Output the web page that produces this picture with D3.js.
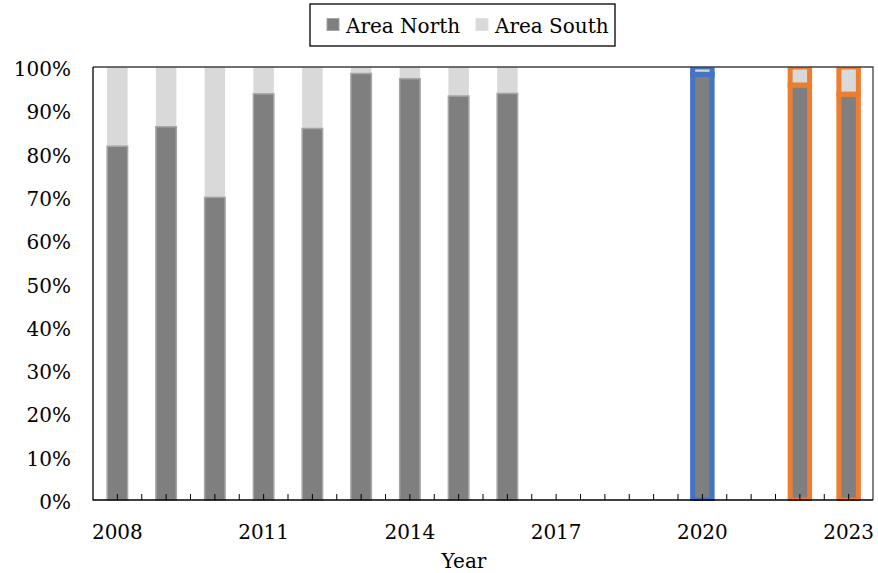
<!DOCTYPE html>
<html><head><meta charset="utf-8">
<script src="https://cdn.jsdelivr.net/npm/d3@7"></script>
<style>body{margin:0;background:#fff}svg{display:block}text{font-family:"DejaVu Serif",serif;fill:#000}</style>
</head><body><svg id="c" width="878" height="573"></svg>
<script>
const years = d3.range(2008, 2024).map(String);
const northYears = ["2008","2009","2010","2011","2012","2013","2014","2015","2016","2020","2022","2023"];
const northValues = [0.817, 0.862, 0.699, 0.938, 0.858, 0.985, 0.973, 0.933, 0.939, 0.983, 0.958, 0.937];
const xTickLabels = ["2008","2011","2014","2017","2020","2023"];
const yTicks = [0,0.1,0.2,0.3,0.4,0.5,0.6,0.7,0.8,0.9,1.0];
const highlightYears = ["2020","2022","2023"];
const highlightColors = ["#4472c4","#ed7d31","#ed7d31"];
const seriesNames = ["Area North","Area South"];
const seriesColors = ["#7f7f7f","#d9d9d9"];

const L=93,R=873,T=67,B=500;
const svg=d3.select("#c");
const x=d3.scaleBand().domain(years).range([L,R]).padding(0);
const y=d3.scaleLinear().domain([0,1]).range([B,T]);
const bw=x.bandwidth()*0.42;

const data=northYears.map((yr,i)=>({year:yr,north:northValues[i],south:1-northValues[i]}));

svg.append("defs").append("clipPath").attr("id","clip").append("rect")
  .attr("x",L).attr("y",T).attr("width",R-L).attr("height",B-T+1);
const g=svg.append("g").attr("clip-path","url(#clip)");

const cx=d=>x(d.year)+x.bandwidth()/2;
// south segments
g.selectAll(".s").data(data).join("rect")
  .attr("x",d=>cx(d)-bw/2).attr("width",bw)
  .attr("y",y(1)).attr("height",d=>y(d.north)-y(1))
  .attr("fill",seriesColors[1]);
// north segments
g.selectAll(".n").data(data).join("rect")
  .attr("x",d=>cx(d)-bw/2).attr("width",bw)
  .attr("y",d=>y(d.north)).attr("height",d=>B-y(d.north))
  .attr("fill",seriesColors[0]).attr("stroke","#a6a6a6").attr("stroke-width",1.5);

// highlights
highlightYears.forEach((yr,i)=>{
  const d=data.find(e=>e.year===yr);
  const c=highlightColors[i];
  const x0=cx(d)-bw/2+0.5, w=bw-1;
  g.append("rect").attr("x",x0).attr("width",w).attr("y",y(1)).attr("height",y(d.north)-y(1))
    .attr("fill","none").attr("stroke",c).attr("stroke-width",5);
  g.append("rect").attr("x",x0).attr("width",w).attr("y",y(d.north)).attr("height",B-y(d.north))
    .attr("fill","none").attr("stroke",c).attr("stroke-width",5);
});

// frame
svg.append("path").attr("d",`M${L},${T}H${R}V${B}`).attr("fill","none").attr("stroke","#404040").attr("stroke-width",1.3);
svg.append("line").attr("x1",L).attr("x2",L).attr("y1",T).attr("y2",B+0.5).attr("stroke","#000").attr("stroke-width",1.3);
svg.append("line").attr("x1",L).attr("x2",R).attr("y1",B).attr("y2",B).attr("stroke","#000").attr("stroke-width",1.3);

// x ticks (centers and boundaries), inward
const tickXs=[];
years.forEach((yr,i)=>{ if(i>0) tickXs.push(x(yr)); tickXs.push(x(yr)+x.bandwidth()/2); });
svg.selectAll(".xt").data(tickXs).join("line")
  .attr("x1",d=>d).attr("x2",d=>d).attr("y1",B).attr("y2",B-6).attr("stroke","#000").attr("stroke-width",1);

// x labels
svg.selectAll(".xl").data(xTickLabels).join("text")
  .attr("x",d=>x(d)+x.bandwidth()/2).attr("y",539).attr("text-anchor","middle")
  .attr("font-size",20).text(d=>d);
svg.append("text").attr("x",(L+R)/2-19).attr("y",568).attr("text-anchor","middle").attr("font-size",20).text("Year");

// y labels
svg.selectAll(".yl").data(yTicks).join("text")
  .attr("x",71).attr("y",d=>y(d)+2).attr("text-anchor","end").attr("dominant-baseline","central")
  .attr("font-size",20).text(d=>d3.format(".0%")(d));

// legend
const lg=svg.append("g");
lg.append("rect").attr("x",310).attr("y",4).attr("width",305).attr("height",42)
  .attr("fill","#fff").attr("stroke","#000").attr("stroke-width",1.3);
const lx=[327,476];
seriesNames.forEach((n,i)=>{
  lg.append("rect").attr("x",lx[i]).attr("y",18.5).attr("width",12).attr("height",12)
    .attr("fill",seriesColors[i]).attr("stroke",i===0?"#a6a6a6":"#e0e0e0").attr("stroke-width",1);
  lg.append("text").attr("x",lx[i]+19).attr("y",32.5).attr("font-size",20).text(n);
});
</script></body></html>
